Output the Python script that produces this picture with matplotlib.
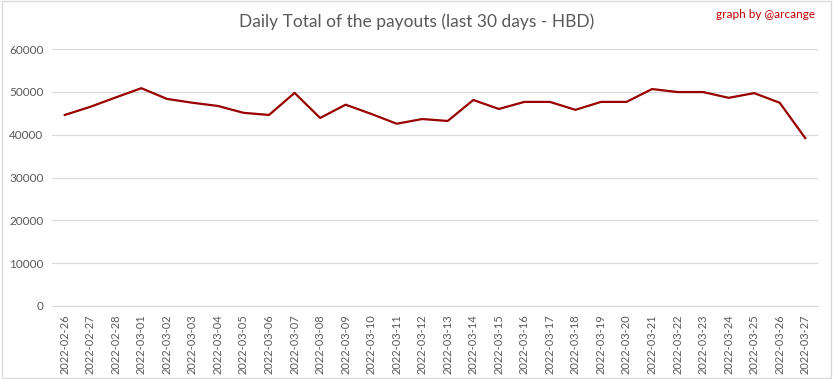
import matplotlib.pyplot as plt
from matplotlib.patches import Rectangle

# data
dates = ["2022-02-26", "2022-02-27", "2022-02-28", "2022-03-01", "2022-03-02",
         "2022-03-03", "2022-03-04", "2022-03-05", "2022-03-06", "2022-03-07",
         "2022-03-08", "2022-03-09", "2022-03-10", "2022-03-11", "2022-03-12",
         "2022-03-13", "2022-03-14", "2022-03-15", "2022-03-16", "2022-03-17",
         "2022-03-18", "2022-03-19", "2022-03-20", "2022-03-21", "2022-03-22",
         "2022-03-23", "2022-03-24", "2022-03-25", "2022-03-26", "2022-03-27"]
payouts = [44600, 46500, 48700, 50850, 48350, 47450, 46700, 45100, 44600, 49750,
           43900, 47000, 44850, 42550, 43650, 43200, 48100, 46000, 47650, 47650,
           45800, 47650, 47650, 50650, 49950, 49950, 48600, 49700, 47450, 39200]
yticks = [0, 10000, 20000, 30000, 40000, 50000, 60000]

plt.rcParams['font.family'] = ['Lato', 'DejaVu Sans']

fig = plt.figure(figsize=(8.33, 3.79), dpi=100)
ax = fig.add_axes([52 / 833, 1 - 306 / 379, 766 / 833, 257 / 379])

x = range(len(dates))
ax.plot(x, payouts, color='#990000', linewidth=1.6)

ax.set_xlim(-0.5, len(dates) - 0.5)
ax.set_ylim(0, 60000)
ax.set_yticks(yticks)
ax.set_yticklabels([str(v) for v in yticks], fontsize=8.5, color='#595959')
ax.set_xticks(list(x))
ax.set_xticklabels(dates, rotation=90, fontsize=8, color='#595959')
ax.tick_params(axis='both', length=0, pad=6)
ax.grid(axis='y', color='#d9d9d9', linewidth=0.9)
ax.set_axisbelow(True)
for side in ['top', 'right', 'left']:
    ax.spines[side].set_visible(False)
ax.spines['bottom'].set_color('#d9d9d9')

fig.text(0.5, 1 - 22 / 379, "Daily Total of the payouts (last 30 days - HBD)",
         ha='center', va='center', fontsize=12.5, color='#595959')
fig.text(815 / 833, 1 - 15 / 379, "graph by @arcange", ha='right', va='center',
         fontsize=8.5, color='#c00000')

# outer frame
fig.patches.append(Rectangle((0.002, 0.003), 0.996, 0.994, transform=fig.transFigure,
                             fill=False, edgecolor='#d9d9d9', linewidth=1))

fig.savefig("out.png", dpi=100)
